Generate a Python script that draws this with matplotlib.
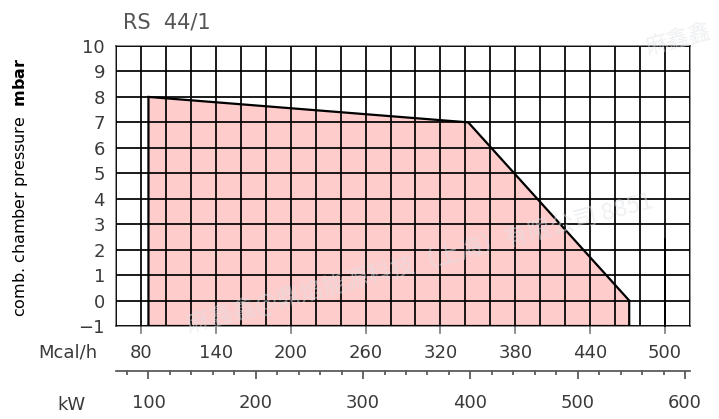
import matplotlib
matplotlib.use("Agg")
import matplotlib.pyplot as plt
from matplotlib.ticker import MultipleLocator, FixedLocator

# ---- data ----
title = "RS  44/1"
kw_outline = [100, 100, 398, 548, 548]          # kW
mbar_outline = [-1, 8, 7, 0, -1]                 # mbar
mcal_ticks = [80, 140, 200, 260, 320, 380, 440, 500]
kw_ticks = [100, 200, 300, 400, 500, 600]
marker_mcal = 500
marker_mbar = [-1, 2.4]
y_ticks = list(range(-1, 11))
KW_TO_MCAL = 0.86
watermark = "麻鑫鑫@鼎焰能源科技（上海）有限公司 8851"

W, H = 719, 419
fig = plt.figure(figsize=(W / 100, H / 100), dpi=100)

GRID = (0, 0, 0, 0.5)
TXT = "#3a3a3a"

ax = fig.add_axes([116 / W, (H - 326) / H, 574 / W, 280 / H])
ax.set_xlim(60, 520)
ax.set_ylim(-1, 10)

mx = [k * KW_TO_MCAL for k in kw_outline]
ax.fill(mx, mbar_outline, color="#ffcccc", zorder=1, lw=0)
ax.plot(mx + [mx[0]], mbar_outline + [mbar_outline[0]], color="black", lw=1.6,
        zorder=4, solid_joinstyle="miter")

ax.xaxis.set_major_locator(MultipleLocator(20))
ax.xaxis.set_major_formatter(plt.FuncFormatter(lambda v, p: str(int(round(v))) if int(round(v)) in mcal_ticks else ""))
ax.yaxis.set_major_locator(FixedLocator(y_ticks))
ax.grid(True, which="major", color=GRID, lw=1.25, zorder=3)
ax.set_axisbelow(False)
for s in ax.spines.values():
    s.set_color(GRID)
    s.set_linewidth(1.25)
    s.set_zorder(3)
ax.tick_params(axis="x", which="major", direction="out", length=0,
               labelsize=13, labelcolor=TXT, pad=13)
# downward ticks only at labelled positions
for v in mcal_ticks:
    ax.plot([v, v], [-1, -1.27], color=GRID, lw=1.25, clip_on=False, zorder=3)
ax.tick_params(axis="y", length=0, labelsize=13, labelcolor=TXT, pad=8)
ax.set_yticklabels(["\u22121" if v == -1 else str(v) for v in y_ticks])

ax.plot([marker_mcal, marker_mcal], marker_mbar, color="black", lw=1.4, zorder=5,
        clip_on=False)

ax.set_ylabel(r"comb. chamber pressure  $\mathbf{mbar}$", fontsize=11.5,
              color="black")
ax.yaxis.set_label_coords((30 - 116) / 574, (326 - 187) / 280)

# kW scale
ax2 = fig.add_axes([116 / W, (H - 371) / H, 574 / W, 0.001])
ax2.set_xlim(60 / KW_TO_MCAL, 520 / KW_TO_MCAL)
ax2.set_ylim(0, 1)
ax2.patch.set_visible(False)
for k in ["top", "left", "right"]:
    ax2.spines[k].set_visible(False)
ax2.spines["bottom"].set_color("#555555")
ax2.spines["bottom"].set_linewidth(1.25)
ax2.set_yticks([])
ax2.xaxis.set_major_locator(FixedLocator(kw_ticks))
ax2.xaxis.set_minor_locator(MultipleLocator(20))
ax2.tick_params(axis="x", which="major", direction="out", length=5.5, width=1.25,
                color="#555555", labelsize=13, labelcolor=TXT, pad=11)
ax2.tick_params(axis="x", which="minor", direction="out", length=3, width=1.25,
                color="#555555")

fig.text(68 / W, 1 - 352 / H, "Mcal/h", fontsize=13, color=TXT, ha="center", va="center")
fig.text(71 / W, 1 - 405 / H, "kW", fontsize=13, color=TXT, ha="center", va="center")
fig.text(123 / W, 1 - 22 / H, title, fontsize=15, color="#555555", ha="left", va="center")

# faint watermark
fig.text(420 / W, 1 - 262 / H, watermark, fontsize=17, color="#dde1e6", alpha=0.5,
         rotation=15, ha="center", va="center",
         family=["Noto Sans CJK SC", "DejaVu Sans"], zorder=10)
fig.text(678 / W, 1 - 40 / H, "麻鑫鑫", fontsize=16, color="#dde1e6", alpha=0.5,
         rotation=15, ha="center", va="center",
         family=["Noto Sans CJK SC", "DejaVu Sans"], zorder=10)

fig.savefig("out.png", dpi=100)
